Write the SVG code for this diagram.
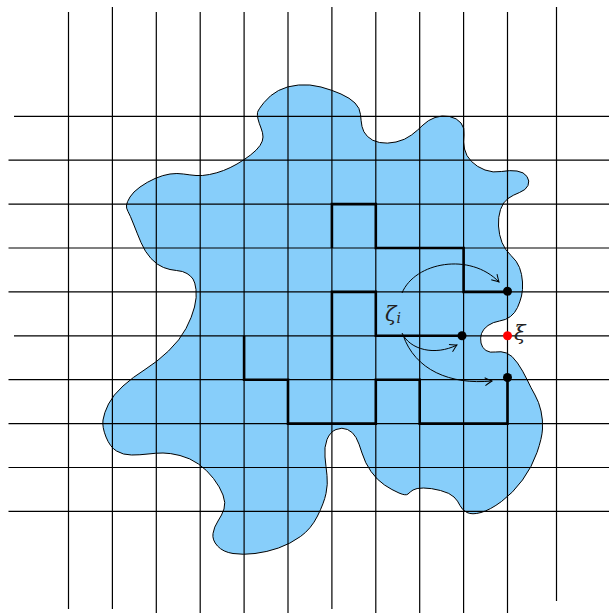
<svg xmlns="http://www.w3.org/2000/svg" width="609" height="613" viewBox="0 0 609 613">
<style>
.grid line{stroke:#000;stroke-width:1.2}
.bold{fill:none;stroke:#000;stroke-width:2.6;stroke-linejoin:miter}
.arr{fill:none;stroke:#000;stroke-width:1;marker-end:url(#tip)}
.lbl{font-family:"DejaVu Serif","Liberation Serif",serif;font-style:italic;fill:#222}
</style>
<defs>
<marker id="tip" viewBox="-8 -5 10 10" markerWidth="10" markerHeight="10" refX="0" refY="0" orient="auto" markerUnits="userSpaceOnUse">
<path d="M -7 -4 Q -2 -1 0 0 Q -2 1 -7 4" fill="none" stroke="#000" stroke-width="1"/>
</marker>
</defs>
<g id="region">
<path fill="#87cefa" stroke="#000" stroke-width="1" d="M 257.5 112.5 Q 258 110 264 102.5 T 278.5 90.5 T 298.5 85 T 321 87 T 341 94 T 355 103 T 360.5 114.5 T 362 126.5 T 367.5 136.5 T 379.5 142.5 T 396 142 T 411.5 135 T 423 125 T 435 117.5 T 449.5 116.5 T 461 123 T 464 135 T 464.5 149 T 471.5 161.5 T 485 170 T 501.5 171.5 T 517 171 T 527 176.5 T 528 185.5 T 519.5 192.5 T 508 198.5 T 500.5 209.5 T 498.5 226 T 502 242.5 T 511 255.5 T 519.5 267.5 T 522.5 282 T 521.5 296 T 517.5 307.5 T 510.5 316.5 T 499.5 321 T 488 325.5 T 481.5 333.5 T 481 343 T 486 350.5 T 495.5 352 T 506.5 353 T 517.5 363 T 527 379.5 T 535 395 T 541 411 T 542.5 429 T 537 452.5 T 522.5 480 T 501.5 501.5 T 481 512.5 T 467 512.5 T 460 505.5 T 454 497 T 440.5 490.5 T 423.5 488 T 413 490 T 408 494 T 399 493 T 384.5 485 T 371 471.5 T 362 453 T 356 437.5 T 347.5 429.5 T 336 429.5 T 327 439.5 T 325 457 T 327 475.5 T 326 493.5 T 317.5 516 T 300.5 536.5 T 278.5 548 T 255 553.5 T 233 553.5 T 217.5 546 T 213 533.5 T 218 521 T 224 509 T 223 495 T 213.5 478.5 T 198.5 464 T 180 455.5 T 163 453 T 148 454 T 131.5 455 T 116.5 451 T 106 437 T 103 420 T 108.5 404 T 123 386 T 145 369.5 T 168.5 351 T 186 328.5 T 194.5 307 T 196 289.5 T 193 279 T 187 273.5 T 176.5 270.5 T 163.5 267.5 T 151 258.5 T 141 242.5 T 133.5 224 T 128 211.5 T 126.5 205 T 130 197 T 140 187 T 155 178.5 T 170 174 T 183.5 174 T 196 175.5 T 209.5 174.5 T 223.5 170.5 T 237 164 T 250.5 155 T 260 145.5 T 263 137 T 261 128 T 258 119 T 257.5 112.5 Z"/>
</g>
<g id="grid" class="grid">
<line x1="68.5" y1="12" x2="68.5" y2="609"/>
<line x1="112.4" y1="7" x2="112.4" y2="609"/>
<line x1="156.3" y1="12" x2="156.3" y2="613"/>
<line x1="200.2" y1="12" x2="200.2" y2="613"/>
<line x1="244.1" y1="12" x2="244.1" y2="613"/>
<line x1="288" y1="12" x2="288" y2="613"/>
<line x1="331.9" y1="7" x2="331.9" y2="609"/>
<line x1="375.8" y1="12" x2="375.8" y2="613"/>
<line x1="419.7" y1="12" x2="419.7" y2="613"/>
<line x1="463.6" y1="12" x2="463.6" y2="613"/>
<line x1="507.5" y1="12" x2="507.5" y2="613"/>
<line x1="556.5" y1="7" x2="556.5" y2="601"/>
<line x1="14" y1="116.3" x2="609" y2="116.3"/>
<line x1="8.5" y1="160.2" x2="609" y2="160.2"/>
<line x1="8.5" y1="204.1" x2="609" y2="204.1"/>
<line x1="8.5" y1="248" x2="609" y2="248"/>
<line x1="8.5" y1="291.9" x2="609" y2="291.9"/>
<line x1="14" y1="335.8" x2="609" y2="335.8"/>
<line x1="8.5" y1="379.7" x2="609" y2="379.7"/>
<line x1="8.5" y1="423.6" x2="609" y2="423.6"/>
<line x1="8.5" y1="467.5" x2="609" y2="467.5"/>
<line x1="8.5" y1="511.4" x2="609" y2="511.4"/>
</g>
<g id="paths">
<path class="bold" d="M 331.9 248 V 204.1 H 375.8 V 248 H 463.6 V 291.9 H 507.5"/>
<path class="bold" d="M 331.9 379.7 V 291.9 H 375.8 V 335.8 H 462"/>
<path class="bold" d="M 244.1 335.8 V 379.7 H 288 V 423.6 H 375.8 V 379.7 H 419.7 V 423.6 H 507.5 V 378"/>
</g>
<g id="connectors">
<path class="arr" d="M 402 293 C 415 262, 470 252, 499 282"/>
<path class="arr" d="M 402 333 C 410 350, 435 356, 457 345"/>
<path class="arr" d="M 403 335 C 415 370, 450 385, 492 381"/>
</g>
<g id="points">
<circle cx="507.5" cy="291.2" r="4.5" fill="#000"/>
<circle cx="462" cy="335.8" r="4.5" fill="#000"/>
<circle cx="507.5" cy="377.5" r="4.5" fill="#000"/>
<circle cx="507.5" cy="335.8" r="4.5" fill="#ff0000"/>
</g>
<g id="labels">
<text class="lbl" x="385" y="321" font-size="21">ζ<tspan font-size="14" dy="2">i</tspan></text>
<text class="lbl" x="514" y="340" font-size="21">ξ</text>
</g>
</svg>
